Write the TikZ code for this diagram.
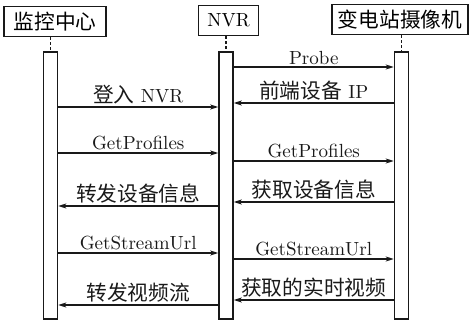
\documentclass[tikz,border=0pt]{standalone}
\usepackage{fontspec}
\setmainfont{lmroman10-regular.otf}
\newfontfamily\cjk[Scale=1.09]{Noto Sans CJK SC}
\usetikzlibrary{arrows.meta, calc, positioning}
\definecolor{seqline}{RGB}{25, 25, 25}
\newcommand{\zh}[1]{{\cjk #1}}

\tikzset{
  actor/.style={draw=seqline, line width=1.3pt, minimum height=30pt,
                inner sep=2pt, font=\fontsize{19}{21}\selectfont},
  actbar/.style={draw=seqline, fill=white, line width=1.5pt,
                 minimum width=14pt, minimum height=267pt, inner sep=0pt},
  life/.style={seqline, line width=1.5pt, dash pattern=on 3pt off 2pt},
  msg/.style={seqline, line width=1.3pt,
              -{Stealth[length=8pt, width=5pt, inset=2pt]}},
  msglabel/.style={above=1pt, inner sep=1pt,
                   font=\fontsize{19}{21}\selectfont}
}

\begin{document}
\begin{tikzpicture}[x=1pt, y=-1pt]
  \useasboundingbox (0,0) rectangle (470,320);
  %--- participants ----------------------------------------------------------
  \node[actor, minimum width=102pt] (center) at (55,21.5) {\zh{监控中心}};
  \node[actor, minimum width=60pt]  (nvr)    at (228.5,20.5) {NVR};
  \node[actor, minimum width=136pt] (cam)    at (400,19.5) {\zh{变电站摄像机}};
  %--- activation bars and lifelines -----------------------------------------
  \node[actbar] (centerbar) at (50.5,185.5) {};
  \node[actbar] (nvrbar)    at (226,185.5) {};
  \node[actbar] (cambar)    at (401.5,185.5) {};
  \draw[life] (centerbar.north |- center.south) -- (centerbar.north);
  \draw[life] (nvrbar.north |- nvr.south) -- (nvrbar.north);
  \draw[life] (cambar.north |- cam.south) -- (cambar.north);
  %--- messages: NVR <-> camera ----------------------------------------------
  \draw[msg] (nvrbar.east |- 0,67) -- (cambar.west |- 0,67)
    node[msglabel, midway] {Probe};
  \draw[msg] (cambar.west |- 0,103) -- (nvrbar.east |- 0,103)
    node[msglabel, midway] {\zh{前端设备} IP};
  \draw[msg] (nvrbar.east |- 0,161) -- (cambar.west |- 0,161)
    node[msglabel, midway] {GetProfiles};
  \draw[msg] (cambar.west |- 0,202) -- (nvrbar.east |- 0,202)
    node[msglabel, midway] {\zh{获取设备信息}};
  \draw[msg] (nvrbar.east |- 0,259) -- (cambar.west |- 0,259)
    node[msglabel, midway] {GetStreamUrl};
  \draw[msg] (cambar.west |- 0,300) -- (nvrbar.east |- 0,300)
    node[msglabel, midway] {\zh{获取的实时视频}};
  %--- messages: centre <-> NVR ----------------------------------------------
  \draw[msg] (centerbar.east |- 0,107) -- (nvrbar.west |- 0,107)
    node[msglabel, midway] {\zh{登入} NVR};
  \draw[msg] (centerbar.east |- 0,153) -- (nvrbar.west |- 0,153)
    node[msglabel, midway] {GetProfiles};
  \draw[msg] (nvrbar.west |- 0,206) -- (centerbar.east |- 0,206)
    node[msglabel, midway] {\zh{转发设备信息}};
  \draw[msg] (centerbar.east |- 0,253) -- (nvrbar.west |- 0,253)
    node[msglabel, midway] {GetStreamUrl};
  \draw[msg] (nvrbar.west |- 0,305) -- (centerbar.east |- 0,305)
    node[msglabel, midway] {\zh{转发视频流}};
\end{tikzpicture}
\end{document}
